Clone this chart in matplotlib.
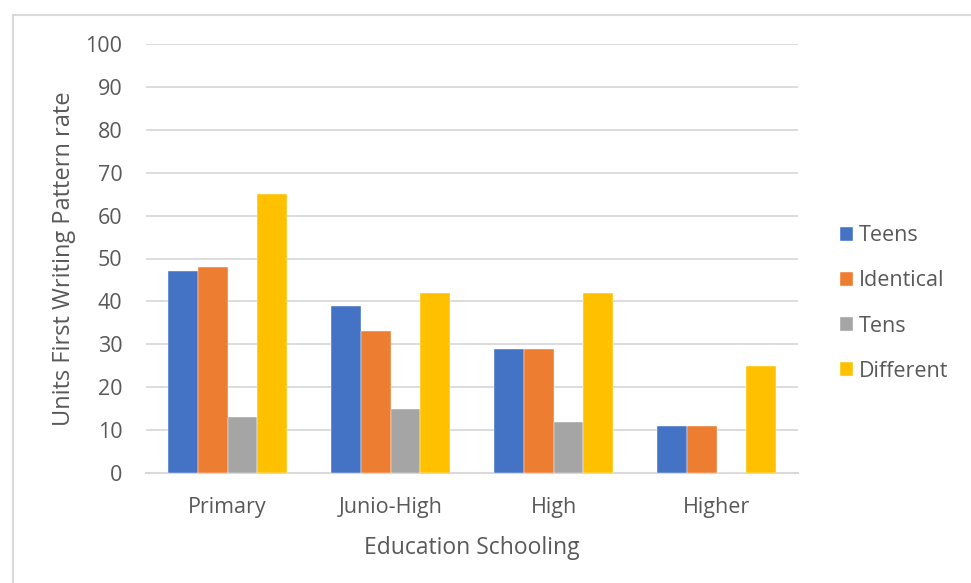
import matplotlib.pyplot as plt
import numpy as np
from matplotlib.patches import Rectangle

plt.rcParams['font.family'] = ['Open Sans', 'DejaVu Sans']

categories = ['Primary', 'Junio-High', 'High', 'Higher']
teens = [47, 39, 29, 11]
identical = [48, 33, 29, 11]
tens = [13, 15, 12, 0]
different = [65, 42, 42, 25]

series = [('Teens', teens, '#4472C4'),
          ('Identical', identical, '#ED7D31'),
          ('Tens', tens, '#A5A5A5'),
          ('Different', different, '#FFC000')]

text_color = '#595959'

fig = plt.figure(figsize=(9.71, 5.83), dpi=100)
# light chart-area border
fig.patches.append(Rectangle((13 / 971, -0.01), 1.0, 1 - 15 / 583 + 0.01,
                             transform=fig.transFigure, fill=False,
                             edgecolor='#D9D9D9', linewidth=1.5))

ax = fig.add_axes([146 / 971, 110 / 583, 652 / 971, 429 / 583])

x = np.arange(len(categories))
width = 0.184
for i, (name, vals, color) in enumerate(series):
    ax.bar(x + (i - 1.5) * width, vals, width, color=color, label=name,
           edgecolor='white', linewidth=0.3, zorder=3)

ax.set_xlim(-0.5, len(categories) - 0.5)
ax.set_ylim(0, 100)
ax.set_yticks(range(0, 101, 10))
ax.set_xticks(x)
ax.set_xticklabels(categories)
ax.yaxis.grid(True, color='#D9D9D9', linewidth=1.3, zorder=0)
ax.set_axisbelow(True)
for side in ['top', 'right', 'left']:
    ax.spines[side].set_visible(False)
ax.spines['bottom'].set_color('#D9D9D9')
ax.spines['bottom'].set_linewidth(1.5)
ax.tick_params(axis='both', length=0, labelsize=15.5, colors=text_color)
ax.tick_params(axis='y', pad=17)
ax.tick_params(axis='x', pad=17)

ax.set_ylabel('Units First Writing Pattern rate', fontsize=17, color=text_color, labelpad=7)
ax.set_xlabel('Education Schooling', fontsize=16.5, color=text_color, labelpad=13)

ax.legend(loc='center left', bbox_to_anchor=(1.064, 0.395), frameon=False,
          borderaxespad=0, borderpad=0,
          fontsize=15.5, labelcolor=text_color, handlelength=0.6, handleheight=0.6,
          handletextpad=0.3, labelspacing=1.12)

fig.savefig('out.png', dpi=100)
